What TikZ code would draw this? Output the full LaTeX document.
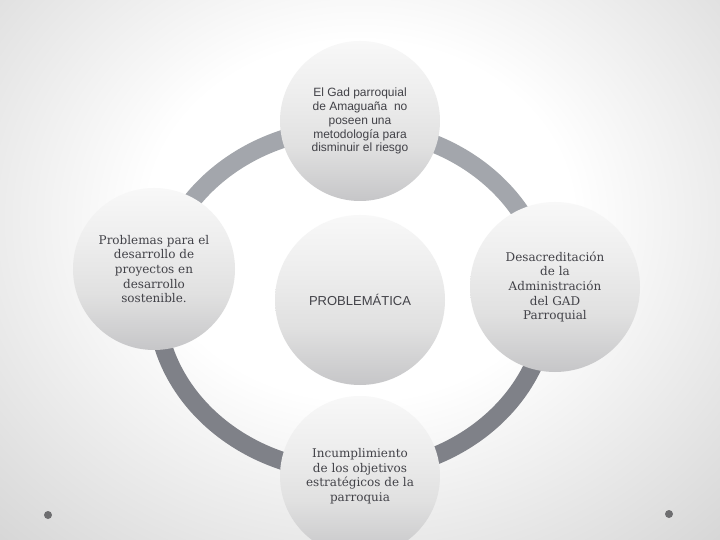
\documentclass[tikz,border=0pt]{standalone}
\usepackage{fontspec}
\setmainfont{DejaVu Serif}
\setsansfont{Liberation Sans}
\usepackage{tikz}

\definecolor{ringlight}{RGB}{163,166,172}
\definecolor{ringdark}{RGB}{127,129,136}
\definecolor{bubbletop}{RGB}{248,248,248}
\definecolor{bubblebottom}{RGB}{198,198,200}
\definecolor{dotgrey}{RGB}{110,110,112}
\definecolor{ink}{RGB}{66,66,72}

\pgfdeclareradialshading{slidebg}{\pgfpoint{0bp}{0bp}}{color(0bp)=(white); color(14bp)=(white); color(36bp)=(black!17); color(50bp)=(black!17)}
\pgfdeclareverticalshading{bubbleshade}{100bp}{color(0bp)=(bubblebottom); color(25bp)=(bubblebottom); color(42bp)=(black!12); color(58bp)=(black!7); color(75bp)=(bubbletop); color(100bp)=(bubbletop)}

\begin{document}
\begin{tikzpicture}[x=1pt,y=-1pt,semithick,
                    every node/.style={text=ink}]
  \tikzstyle{bubble}=[circle,inner sep=0pt,align=center,draw=none,
                      shading=bubbleshade]
  \tikzstyle{serif text}=[font=\fontsize{12}{14.6}\selectfont]
  \tikzstyle{sans text}=[font=\sffamily\fontsize{12}{13.9}\selectfont]

  % slide background
  \useasboundingbox (0,0) rectangle (720,540);
  \begin{scope}
    \clip (0,0) rectangle (720,540);
    \shade[shading=slidebg] (-20,-100) rectangle (740,540);
  \end{scope}

  % ring
  \coordinate (ring) at (352,300);
  \draw[ringdark,line width=18pt] (ring) ++(196,0)
    arc[start angle=0,end angle=180,x radius=196,y radius=172];
  \draw[ringlight,line width=18pt] (ring) ++(196,0)
    arc[start angle=0,end angle=-180,x radius=196,y radius=172];

  % circles
  \node[bubble,sans text,minimum size=160pt] (T) at (360,121)
    {El Gad parroquial\\de Amaguaña~ no\\poseen una\\metodología para\\disminuir el riesgo};
  \node[bubble,serif text,minimum size=162pt] (L) at (154,269)
    {Problemas para el\\desarrollo de\\proyectos en\\desarrollo\\sostenible.};
  \node[bubble,serif text,minimum size=170pt] (R) at (555,287)
    {Desacreditación\\de la\\Administración\\del GAD\\Parroquial};
  \node[bubble,sans text,minimum size=170pt,font=\sffamily\fontsize{13}{15}\selectfont] (C) at (360,300)
    {PROBLEMÁTICA};
  \node[bubble,serif text,minimum size=160pt] (B) at (360,476)
    {Incumplimiento\\de los objetivos\\estratégicos de la\\parroquia};

  % corner dots
  \fill[dotgrey] (48,515) circle[radius=4];
  \fill[dotgrey] (669,514) circle[radius=4];
\end{tikzpicture}
\end{document}
